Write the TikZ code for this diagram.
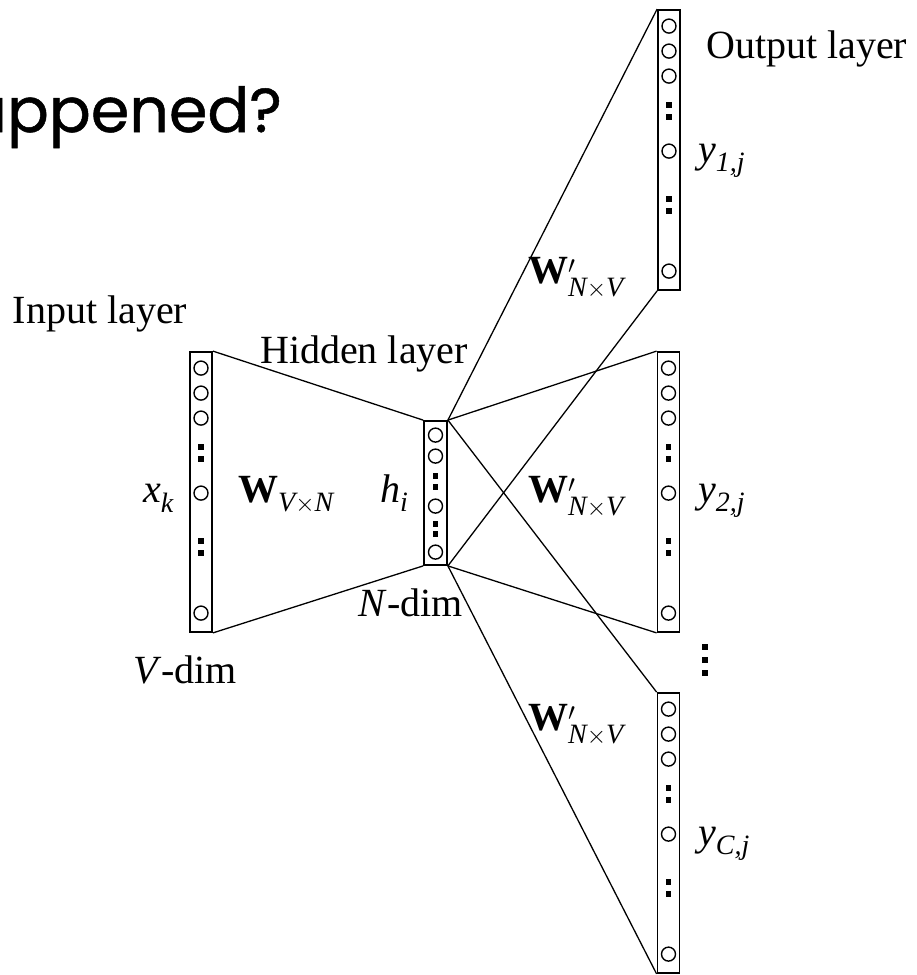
\documentclass[tikz,border=0pt]{standalone}
\usepackage{amsmath}
\usepackage{fontspec}
\setmainfont{Liberation Serif}
\newfontfamily\popfont[FakeBold=0.8]{Poppins}
\usetikzlibrary{positioning}
\tikzset{
  layerbox/.style={draw,line width=1.8pt,inner sep=0pt,minimum width=22pt,minimum height=280pt},
  hidbox/.style={layerbox,minimum width=23pt,minimum height=144pt},
  unit/.style={circle,draw,line width=1.4pt,inner sep=0pt,minimum size=14pt},
  dotsq/.style={fill=black,inner sep=0pt,minimum size=5.5pt},
  wire/.style={line width=1.3pt},
  lab/.style={font=\fontsize{40}{44}\selectfont,inner sep=0pt},
}

\begin{document}
\begin{tikzpicture}[x=1pt,y=-1pt]
  \fill[white] (0,0) rectangle (917,975);
  \useasboundingbox (0,0) rectangle (917,975);
  \node[lab,anchor=base east,font=\fontsize{62}{68}\popfont] (title) at (282,132) {happened?};
  \node[layerbox] (in) at (201,492) {};
  \node[hidbox] (hid) at (435.5,493) {};
  \node[layerbox] (out1) at (669,150) {};
  \node[layerbox] (out2) at (668.5,492) {};
  \node[layerbox] (out3) at (668.5,833) {};
  \foreach \c in {in,out1,out2,out3} {
    \foreach \d/\k in {17/a,42/b,67/c,142/d,262/e}
      \node[unit] (\c-u\k) at ([yshift=-\d pt]\c.north) {};
    \foreach \d/\k in {96/a,108/b,190/c,202/d}
      \node[dotsq] (\c-s\k) at ([yshift=-\d pt]\c.north) {};
  }
  \foreach \d/\k in {15/a,36/b,86/c,132/d}
    \node[unit] (hid-u\k) at ([yshift=-\d pt]hid.north) {};
  \foreach \d/\k in {56/a,67/b,104/c,114/d}
    \node[dotsq] (hid-s\k) at ([yshift=-\d pt]hid.north) {};
  \foreach \y/\k in {647/a,660/b,673/c}
    \node[dotsq] (vd\k) at (705,\y) {};
  \draw[wire] (in.north east) -- (hid.north west);
  \draw[wire] (in.south east) -- (hid.south west);
  \foreach \o in {out1,out2,out3} {
    \draw[wire] (hid.north east) -- (\o.north west);
    \draw[wire] (hid.south east) -- (\o.south west);
  }
  \node[lab,anchor=base] (inlbl) at (100,323) {Input layer};
  \node[lab,anchor=base] (hidlbl) at (364,363) {Hidden layer};
  \node[lab,anchor=base west] (outlbl) at (706,58) {Output layer};
  \node[lab,anchor=base east] (xk) at (174,502) {\textit{x}$_{\textit{k}}$};
  \node[lab,anchor=base west] (win) at (238,502) {\textbf{W}$_{\textit{V}\times\textit{N}}$};
  \node[lab,anchor=base west] (hi) at (380,502) {\textit{h}$_{\textit{i}}$};
  \node[lab,anchor=base] (ndim) at (411,616) {\textit{N}-dim};
  \node[lab,anchor=base] (vdim) at (185,683) {\textit{V}-dim};
  \node[lab,anchor=base west] (wout1) at (528,283) {\textbf{W}$'_{\textit{N}\times\textit{V}}$};
  \node[lab,anchor=base west] (wout2) at (528,502) {\textbf{W}$'_{\textit{N}\times\textit{V}}$};
  \node[lab,anchor=base west] (wout3) at (528,730) {\textbf{W}$'_{\textit{N}\times\textit{V}}$};
  \node[lab,anchor=base west] (y1) at (698,162) {\textit{y}$_{\textit{1,j}}$};
  \node[lab,anchor=base west] (y2) at (698,502) {\textit{y}$_{\textit{2,j}}$};
  \node[lab,anchor=base west] (yc) at (698,845) {\textit{y}$_{\textit{C,j}}$};
\end{tikzpicture}
\end{document}
